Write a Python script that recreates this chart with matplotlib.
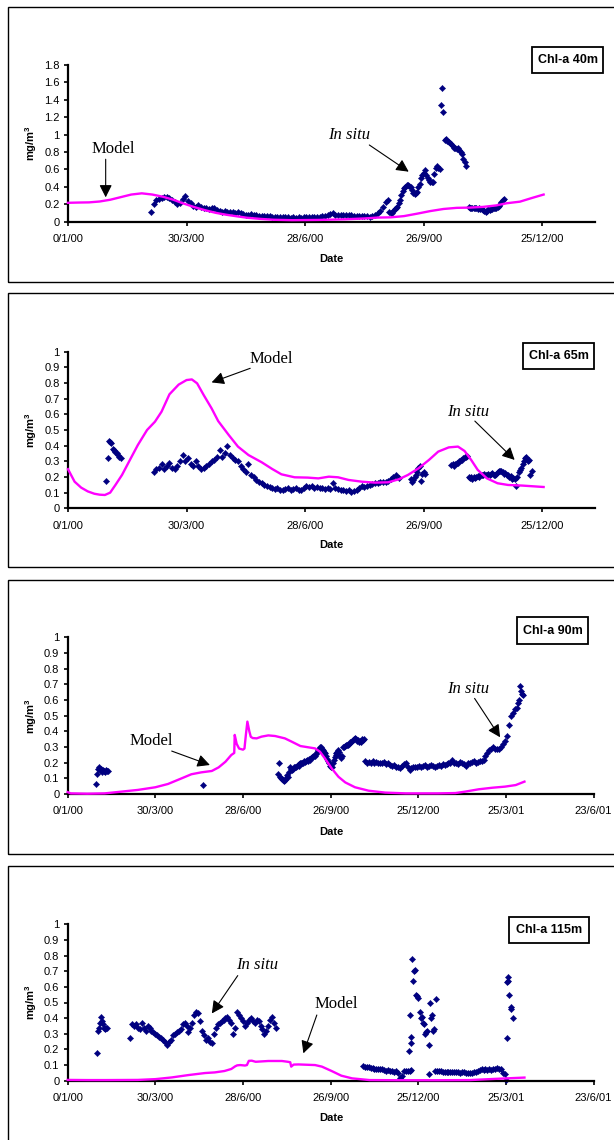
import numpy as np
import matplotlib
matplotlib.use("Agg")
import matplotlib.pyplot as plt
from matplotlib.patches import Rectangle

plt.rcParams["font.family"] = ["Liberation Sans", "DejaVu Sans"]
plt.rcParams["mathtext.fontset"] = "custom"
plt.rcParams["mathtext.rm"] = "Liberation Sans"
plt.rcParams["mathtext.bf"] = "Liberation Sans:bold"

# ---------------------------------------------------------------- axis ticks
# x values are days counted from 0/1/00
ticks_2000 = [0, 90, 180, 270, 360]
labels_2000 = ["0/1/00", "30/3/00", "28/6/00", "26/9/00", "25/12/00"]
ticks_long = [0, 90, 180, 270, 360, 450, 540]
labels_long = ["0/1/00", "30/3/00", "28/6/00", "26/9/00", "25/12/00", "25/3/01", "23/6/01"]
yticks_40 = [0, 0.2, 0.4, 0.6, 0.8, 1.0, 1.2, 1.4, 1.6, 1.8]
yticks_deep = [0, 0.1, 0.2, 0.3, 0.4, 0.5, 0.6, 0.7, 0.8, 0.9, 1.0]

# ---------------------------------------------------------------- 40 m
model_40_days = [0, 8, 16, 24, 32, 40, 48, 56, 64, 72, 80, 88, 96, 104, 112, 120,
                 128, 136, 146, 156, 170, 190, 210, 225, 235, 245, 255, 265, 275,
                 285, 295, 305, 315, 325, 333, 343, 352, 361]
model_40_vals = [0.215, 0.218, 0.22, 0.23, 0.25, 0.28, 0.31, 0.324, 0.31, 0.285,
                 0.25, 0.205, 0.165, 0.13, 0.1, 0.078, 0.06, 0.043, 0.03, 0.02,
                 0.015, 0.018, 0.025, 0.035, 0.045, 0.048, 0.062, 0.09, 0.12,
                 0.144, 0.157, 0.16, 0.168, 0.185, 0.21, 0.228, 0.27, 0.31]

insitu_40_a_start = 63   # every 2 days
insitu_40_a = [0.11, 0.2, 0.25, 0.26, 0.27, 0.28, 0.285, 0.27, 0.25, 0.23, 0.2, 0.21,
               0.26, 0.29, 0.24, 0.21, 0.18, 0.17, 0.19, 0.17, 0.15, 0.16, 0.14, 0.15,
               0.15, 0.13, 0.12, 0.11, 0.12, 0.11, 0.115, 0.11, 0.1, 0.105, 0.095, 0.09,
               0.08, 0.075, 0.085, 0.07, 0.07, 0.065, 0.065, 0.06, 0.06, 0.058, 0.055,
               0.055, 0.052, 0.05, 0.05, 0.048, 0.048, 0.046, 0.048, 0.046, 0.048, 0.046,
               0.048, 0.05, 0.048, 0.05, 0.052, 0.055, 0.056, 0.06, 0.065, 0.075, 0.088,
               0.094, 0.08, 0.075, 0.078, 0.075, 0.072, 0.08, 0.07, 0.065, 0.063, 0.06,
               0.062, 0.058, 0.06, 0.055, 0.06, 0.08, 0.1, 0.125, 0.17, 0.22, 0.25]
insitu_40_b_start = 244  # daily
insitu_40_b = [0.11, 0.1, 0.1, 0.12, 0.14, 0.16, 0.17, 0.21, 0.25, 0.3, 0.35, 0.38, 0.4,
               0.42, 0.42, 0.41, 0.4, 0.36, 0.33, 0.32, 0.33, 0.34, 0.4, 0.43, 0.5, 0.53,
               0.56, 0.59, 0.53, 0.5, 0.48, 0.46, 0.45, 0.46, 0.55, 0.62, 0.64, 0.61, 0.6,
               1.34, 1.54, 1.26, 0.94, 0.95, 0.93, 0.92, 0.9, 0.89, 0.87, 0.85, 0.84,
               0.83, 0.84, 0.82, 0.8, 0.78, 0.72, 0.68, 0.64]
insitu_40_c_start = 304  # daily
insitu_40_c = [0.17, 0.16, 0.16, 0.155, 0.15, 0.155, 0.15, 0.145, 0.15, 0.14, 0.145,
               0.13, 0.12, 0.11, 0.125, 0.14, 0.135, 0.14, 0.145, 0.15, 0.15, 0.16,
               0.17, 0.18, 0.2, 0.23, 0.25, 0.26]

# ---------------------------------------------------------------- 65 m
model_65_days = [0, 5, 10, 15, 20, 24, 28, 32, 36, 41, 47, 53, 60, 66, 71, 77, 84, 90,
                 94, 98, 103, 109, 114, 122, 129, 137, 147, 155, 162, 172, 182, 190,
                 198, 205, 213, 223, 233, 243, 251, 258, 266, 274, 281, 289, 296, 301,
                 306, 311, 318, 326, 334, 345, 361]
model_65_vals = [0.25, 0.17, 0.132, 0.108, 0.093, 0.087, 0.085, 0.1, 0.149, 0.213,
                 0.309, 0.404, 0.5, 0.553, 0.617, 0.728, 0.79, 0.819, 0.823, 0.798,
                 0.723, 0.638, 0.557, 0.468, 0.394, 0.34, 0.294, 0.251, 0.217, 0.198,
                 0.196, 0.191, 0.202, 0.198, 0.181, 0.17, 0.164, 0.166, 0.185, 0.213,
                 0.255, 0.309, 0.362, 0.389, 0.394, 0.366, 0.309, 0.245, 0.191, 0.16,
                 0.149, 0.145, 0.136]

insitu_65_a_start = 29   # daily
insitu_65_a = [0.175, 0.32, 0.43, 0.425, 0.415, 0.38, 0.37, 0.36, 0.35, 0.34, 0.33, 0.32]
insitu_65_b_start = 65   # every 2 days
insitu_65_b = [0.23, 0.25, 0.26, 0.28, 0.25, 0.27, 0.29, 0.26, 0.25, 0.27, 0.3, 0.34,
               0.3, 0.32, 0.28, 0.27, 0.3, 0.27, 0.25, 0.26, 0.27, 0.28, 0.3, 0.31, 0.33,
               0.37, 0.33, 0.35, 0.4, 0.34, 0.32, 0.31, 0.3, 0.27, 0.25, 0.23, 0.28, 0.21,
               0.2, 0.18, 0.17, 0.16, 0.15, 0.14, 0.135, 0.13, 0.125, 0.13, 0.12, 0.115,
               0.125, 0.13, 0.12, 0.125, 0.13, 0.12, 0.115, 0.13, 0.14, 0.135, 0.14, 0.13,
               0.135, 0.13, 0.13, 0.125, 0.13, 0.125, 0.16, 0.13, 0.125, 0.12, 0.115,
               0.11, 0.115, 0.105, 0.11, 0.12, 0.13, 0.14, 0.135, 0.145, 0.15, 0.155,
               0.16, 0.16, 0.165, 0.17, 0.165, 0.175, 0.185, 0.2, 0.21, 0.195]
insitu_65_c_start = 260  # daily
insitu_65_c = [0.185, 0.17, 0.18, 0.2, 0.21, 0.23, 0.26, 0.27, 0.175, 0.22, 0.23, 0.22]
insitu_65_d_start = 291  # daily
insitu_65_d = [0.275, 0.28, 0.27, 0.285, 0.29, 0.29, 0.3, 0.31, 0.31, 0.32, 0.33, 0.33, 0.335]
insitu_65_e_start = 304  # daily
insitu_65_e = [0.2, 0.195, 0.2, 0.19, 0.2, 0.195, 0.2, 0.205, 0.2, 0.21, 0.21, 0.215,
               0.22, 0.215, 0.21, 0.22, 0.215, 0.22, 0.225, 0.21, 0.215, 0.22, 0.23,
               0.235, 0.24, 0.235, 0.23, 0.22, 0.225, 0.215, 0.21, 0.2, 0.205, 0.19,
               0.195, 0.185, 0.14, 0.2, 0.23, 0.245, 0.26, 0.28, 0.3, 0.32, 0.33, 0.3,
               0.31, 0.21, 0.24]

# ---------------------------------------------------------------- 90 m
model_90_days = [0, 3, 20, 38, 55, 72, 90, 103, 117, 127, 137, 148, 155, 162, 168,
                 171, 171.5, 173.5, 176, 180, 181.5, 183, 184.5, 186.5, 188, 190, 194,
                 199, 206, 213, 223, 230, 239, 247, 254, 259, 264, 271, 278, 285, 295,
                 309, 326, 347, 380, 398, 408, 422, 436, 449, 460, 469]
model_90_vals = [0.012, 0.004, 0.002, 0.004, 0.015, 0.026, 0.043, 0.064, 0.1, 0.126,
                 0.138, 0.147, 0.17, 0.206, 0.249, 0.262, 0.377, 0.32, 0.29, 0.283,
                 0.29, 0.38, 0.462, 0.4, 0.365, 0.357, 0.355, 0.366, 0.374, 0.37,
                 0.355, 0.334, 0.306, 0.298, 0.291, 0.27, 0.228, 0.164, 0.11, 0.074,
                 0.043, 0.021, 0.009, 0.004, 0.004, 0.006, 0.015, 0.03, 0.04, 0.047,
                 0.057, 0.079]

insitu_90_a_start = 29   # daily
insitu_90_a = [0.065, 0.13, 0.16, 0.17, 0.15, 0.16, 0.14, 0.15, 0.145, 0.14, 0.15, 0.145, 0.145]
insitu_90_b_start = 139
insitu_90_b = [0.06]
insitu_90_c_start = 216  # daily
insitu_90_c = [0.13, 0.2, 0.11, 0.1, 0.095, 0.09, 0.085, 0.09, 0.1, 0.12, 0.11, 0.14,
               0.17, 0.16, 0.155, 0.16, 0.17, 0.175, 0.17, 0.18, 0.185, 0.18, 0.19,
               0.195, 0.2, 0.195, 0.2, 0.21, 0.205, 0.21, 0.22, 0.21, 0.225, 0.22, 0.23,
               0.235, 0.24, 0.245, 0.24, 0.255, 0.27, 0.28, 0.29, 0.3, 0.3, 0.29, 0.28,
               0.27, 0.26, 0.24, 0.225, 0.21, 0.195, 0.18, 0.17, 0.17, 0.2, 0.22, 0.235,
               0.25, 0.26, 0.27, 0.28, 0.265, 0.245, 0.23, 0.24, 0.3, 0.3, 0.305, 0.31,
               0.31, 0.315, 0.32, 0.33, 0.33, 0.34, 0.345, 0.35, 0.355, 0.35, 0.34,
               0.345, 0.335, 0.34, 0.33, 0.35, 0.345, 0.35]
insitu_90_d_start = 305  # every 2 days
insitu_90_d = [0.21, 0.2, 0.205, 0.2, 0.21, 0.2, 0.205, 0.2, 0.195, 0.2, 0.205, 0.19,
               0.195, 0.185, 0.18, 0.185, 0.17, 0.175, 0.165, 0.18, 0.19, 0.195, 0.17,
               0.155, 0.165, 0.175, 0.17, 0.175, 0.18, 0.175, 0.18, 0.185, 0.175, 0.18,
               0.185, 0.18, 0.175, 0.18, 0.185, 0.18, 0.19, 0.185, 0.19, 0.195, 0.2,
               0.22, 0.195, 0.2, 0.19, 0.205, 0.195, 0.19, 0.18, 0.2, 0.195, 0.205, 0.21,
               0.2, 0.205, 0.21, 0.21, 0.22, 0.24, 0.26, 0.28, 0.29, 0.3, 0.29, 0.285,
               0.29, 0.3, 0.32, 0.34, 0.37, 0.44, 0.5, 0.52, 0.54, 0.55]
insitu_90_e_start = 462  # daily
insitu_90_e = [0.58, 0.6, 0.69, 0.66, 0.64, 0.63]

# ---------------------------------------------------------------- 115 m
model_115_days = [0, 20, 40, 72, 90, 107, 124, 141, 151, 161, 168, 172, 174, 177, 182,
                  184, 186, 189, 193, 206, 220, 226, 228.5, 229.5, 232, 237, 254, 261,
                  271, 281, 292, 310, 340, 380, 413, 440, 469]
model_115_vals = [0.005, 0.004, 0.004, 0.005, 0.01, 0.021, 0.036, 0.049, 0.053,
                  0.062, 0.075, 0.092, 0.098, 0.1, 0.097, 0.1, 0.127, 0.128, 0.121,
                  0.126, 0.126, 0.121, 0.118, 0.09, 0.103, 0.104, 0.1, 0.09, 0.062,
                  0.032, 0.015, 0.004, 0.003, 0.003, 0.004, 0.012, 0.02]

insitu_115_a_start = 30  # daily
insitu_115_a = [0.18, 0.32, 0.34, 0.37, 0.41, 0.38, 0.36, 0.34, 0.33, 0.34, 0.34]
insitu_115_b_start = 64  # every 2 days
insitu_115_b = [0.27, 0.36, 0.35, 0.36, 0.34, 0.33, 0.37, 0.34, 0.32, 0.35, 0.34, 0.32,
                0.31, 0.3, 0.29, 0.28, 0.27, 0.26, 0.245, 0.23, 0.25, 0.26, 0.29, 0.3,
                0.31, 0.32, 0.33, 0.36, 0.37, 0.35, 0.31, 0.34, 0.37, 0.42, 0.44, 0.43,
                0.38, 0.32, 0.29, 0.26, 0.27, 0.25, 0.24, 0.3, 0.34, 0.36, 0.37, 0.38,
                0.39, 0.4, 0.41, 0.39, 0.37, 0.3, 0.34, 0.44, 0.42, 0.4, 0.38, 0.35,
                0.37, 0.39, 0.4, 0.38, 0.37, 0.39, 0.38, 0.35, 0.33, 0.3, 0.32, 0.35,
                0.39, 0.41, 0.37, 0.34]
insitu_115_c_start = 303  # every 2 days
insitu_115_c = [0.095, 0.09, 0.085, 0.085, 0.08, 0.08, 0.078, 0.075, 0.075, 0.072,
                0.075, 0.07, 0.065, 0.07, 0.065, 0.06, 0.055, 0.06, 0.05, 0.015, 0.03,
                0.06, 0.065, 0.06, 0.065, 0.07]
insitu_115_d_days = [350, 351, 352, 353, 354, 355, 356, 357, 358, 359, 360, 362, 363,
                     364, 365, 366, 367, 368, 369, 370.5, 371, 372, 373, 374, 375, 376, 378]
insitu_115_d = [0.19, 0.42, 0.24, 0.28, 0.78, 0.64, 0.7, 0.71, 0.55, 0.54, 0.53, 0.44,
                0.4, 0.41, 0.37, 0.36, 0.3, 0.31, 0.32, 0.04, 0.23, 0.5, 0.4, 0.42,
                0.32, 0.33, 0.52]
insitu_115_e_start = 377  # every 2 days
insitu_115_e = [0.065, 0.06, 0.062, 0.06, 0.058, 0.056, 0.058, 0.056, 0.055, 0.056,
                0.054, 0.056, 0.055, 0.05, 0.058, 0.055, 0.05, 0.052, 0.048, 0.05,
                0.055, 0.058, 0.062, 0.07, 0.075, 0.068, 0.072, 0.07, 0.075, 0.07,
                0.078, 0.075, 0.08, 0.072, 0.075, 0.05]
insitu_115_f_days = [449, 449.6, 450.6, 451.5, 452, 452.5, 453, 454.7, 455.3, 457]
insitu_115_f = [0.04, 0.004, 0.275, 0.63, 0.665, 0.64, 0.55, 0.47, 0.46, 0.4]


def regular(start, step, vals):
    return start + step * np.arange(len(vals)), np.asarray(vals)


series = [
    dict(model=(model_40_days, model_40_vals),
         insitu=[regular(insitu_40_a_start, 2, insitu_40_a),
                 regular(insitu_40_b_start, 1, insitu_40_b),
                 regular(insitu_40_c_start, 1, insitu_40_c)]),
    dict(model=(model_65_days, model_65_vals),
         insitu=[regular(insitu_65_a_start, 1, insitu_65_a),
                 regular(insitu_65_b_start, 2, insitu_65_b),
                 regular(insitu_65_c_start, 1, insitu_65_c),
                 regular(insitu_65_d_start, 1, insitu_65_d),
                 regular(insitu_65_e_start, 1, insitu_65_e)]),
    dict(model=(model_90_days, model_90_vals),
         insitu=[regular(insitu_90_a_start, 1, insitu_90_a),
                 regular(insitu_90_b_start, 1, insitu_90_b),
                 regular(insitu_90_c_start, 1, insitu_90_c),
                 regular(insitu_90_d_start, 2, insitu_90_d),
                 regular(insitu_90_e_start, 1, insitu_90_e)]),
    dict(model=(model_115_days, model_115_vals),
         insitu=[regular(insitu_115_a_start, 1, insitu_115_a),
                 regular(insitu_115_b_start, 2, insitu_115_b),
                 regular(insitu_115_c_start, 2, insitu_115_c),
                 (np.asarray(insitu_115_d_days), np.asarray(insitu_115_d)),
                 regular(insitu_115_e_start, 2, insitu_115_e),
                 (np.asarray(insitu_115_f_days), np.asarray(insitu_115_f))]),
]

# ---------------------------------------------------------------- layout (pixels)
W, H = 614, 1140
fig = plt.figure(figsize=(W / 100, H / 100), dpi=100)


def fx(px):
    return px / W


def fy(py):
    return 1 - py / H


layout = [
    dict(title="Chl-a 40m", frame=(7, 282), axes=(68, 595, 65, 221.5),
         box=(531.7, 603.3, 46.7, 72.7), date_y=259, xmax=400,
         xt=(ticks_2000, labels_2000), yt=yticks_40, ymax=1.8,
         notes=[("Model", "normal", (34, 0.834), (28.6, 0.716), (28.6, 0.278)),
                ("In situ", "italic", (213, 0.995), (228.7, 0.88), (258.6, 0.573))]),
    dict(title="Chl-a 65m", frame=(293, 567), axes=(68, 595, 351.7, 508.3),
         box=(523.1, 594, 343, 369), date_y=545, xmax=400,
         xt=(ticks_2000, labels_2000), yt=yticks_deep, ymax=1.0,
         notes=[("Model", "normal", (154, 0.953), (138.3, 0.894), (109, 0.804)),
                ("In situ", "italic", (303.7, 0.617), (308.8, 0.557), (339, 0.309))]),
    dict(title="Chl-a 90m", frame=(580, 854), axes=(67.7, 593.6, 637.3, 794),
         box=(516.8, 588.1, 617, 644), date_y=832, xmax=540,
         xt=(ticks_long, labels_long), yt=yticks_deep, ymax=1.0,
         notes=[("Model", "normal", (86.3, 0.338), (106.8, 0.274), (146, 0.185)),
                ("In situ", "italic", (411, 0.668), (417.8, 0.61), (444, 0.362))]),
    dict(title="Chl-a 115m", frame=(866, 1170), axes=(67.7, 593.6, 924.3, 1080.7),
         box=(509, 588.5, 917, 943), date_y=1118, xmax=540,
         xt=(ticks_long, labels_long), yt=yticks_deep, ymax=1.0,
         notes=[("In situ", "italic", (194, 0.74), (174.6, 0.672), (148, 0.43)),
                ("Model", "normal", (276, 0.488), (255.8, 0.42), (242, 0.175))]),
]

MODEL_COLOR = "#FF00FF"
INSITU_COLOR = "#000080"

for lay, ser in zip(layout, series):
    # panel frame (runs off the right edge of the page)
    f0, f1 = lay["frame"]
    fig.add_artist(Rectangle((fx(7.8), fy(f1)), fx(640) - fx(7.8), fy(f0) - fy(f1),
                             transform=fig.transFigure, fill=False,
                             edgecolor="black", linewidth=1.0))

    left, right, top, bottom = lay["axes"]
    ax = fig.add_axes([fx(left), fy(bottom), (right - left) / W, (bottom - top) / H])
    ax.set_xlim(0, lay["xmax"])
    ax.set_ylim(0, lay["ymax"])
    for s in ("top", "right"):
        ax.spines[s].set_visible(False)
    for s in ("left", "bottom"):
        ax.spines[s].set_linewidth(1.6)
    ticks, labels = lay["xt"]
    ax.set_xticks(ticks)
    ax.set_xticklabels(labels)
    ax.set_yticks(lay["yt"])
    ax.set_yticklabels([("%g" % v) for v in lay["yt"]])
    ax.tick_params(direction="out", length=3, width=1.2, labelsize=8, colors="black")
    ax.tick_params(axis="x", pad=6)
    ax.tick_params(axis="y", pad=3)
    ax.patch.set_visible(False)

    for d, v in ser["insitu"]:
        ax.plot(d, v, linestyle="none", marker="D", markersize=3.2,
                markeredgewidth=0.3, color=INSITU_COLOR, clip_on=False, zorder=2)
    md, mv = ser["model"]
    ax.plot(md, mv, color=MODEL_COLOR, linewidth=1.7, solid_joinstyle="round",
            clip_on=False, zorder=3)

    for text, style, txy, start, tip in lay["notes"]:
        ax.text(txy[0], txy[1], text, ha="center", va="center", fontsize=12,
                family=["Liberation Serif", "DejaVu Serif"], style=style)
        ax.annotate("", xy=tip, xytext=start,
                    arrowprops=dict(arrowstyle="-|>,head_length=0.75,head_width=0.38",
                                    mutation_scale=10, lw=0.8, color="black",
                                    shrinkA=0, shrinkB=0))

    # axis titles
    fig.text(fx(331), fy(lay["date_y"]), "Date", ha="center", va="center",
             fontsize=8, fontweight="bold")
    fig.text(fx(31.5), fy((top + bottom) / 2), r"mg/m$^\mathbf{3}$", rotation=90,
             ha="center", va="center", fontsize=8, fontweight="bold")

    # depth label box
    b0, b1, b2, b3 = lay["box"]
    fig.add_artist(Rectangle((fx(b0), fy(b3)), fx(b1) - fx(b0), fy(b2) - fy(b3),
                             transform=fig.transFigure, facecolor="white",
                             edgecolor="black", linewidth=1.3))
    fig.text(fx((b0 + b1) / 2), fy((b2 + b3) / 2), lay["title"], ha="center",
             va="center", fontsize=9, fontweight="bold")

fig.savefig("out.png", dpi=100, facecolor="white")
